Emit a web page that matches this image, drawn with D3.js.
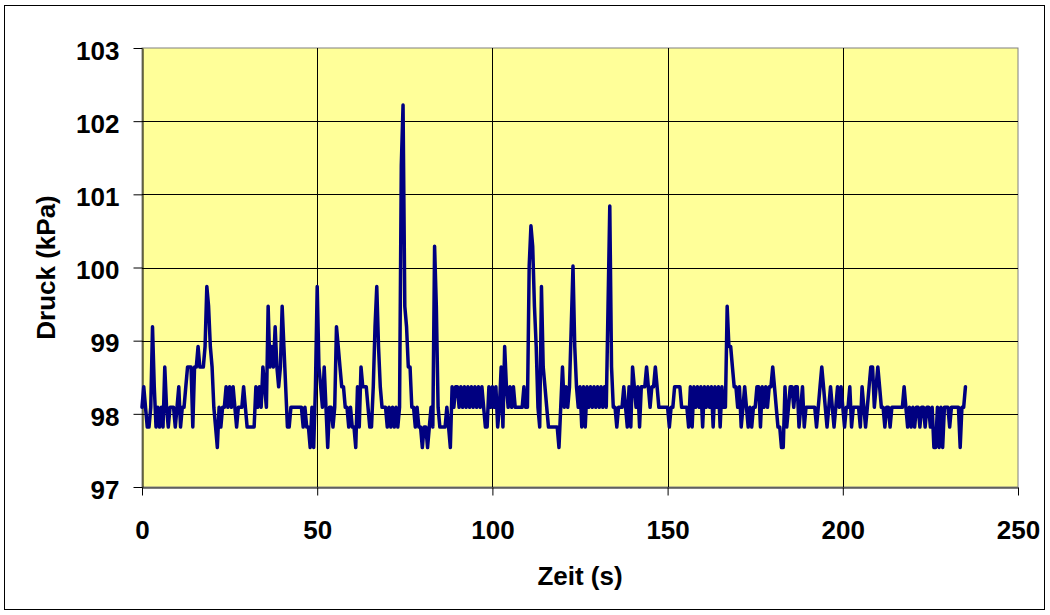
<!DOCTYPE html>
<html>
<head>
<meta charset="utf-8">
<script src="https://cdn.jsdelivr.net/npm/d3@7"></script>
<style>
  html, body { margin: 0; padding: 0; background: #ffffff; }
  svg { display: block; }
  .lbl { font-family: "Liberation Sans", Arial, sans-serif; font-weight: bold; font-size: 26px; fill: #000; }
</style>
</head>
<body>
<svg id="chart" width="1050" height="615"></svg>
<script>
// Druckverlauf, Abtastung alle 0,5 s ab t = 0
const zeitSchritt = 0.5; // s
const druck = [
  // 0 – 31.5 s
  98.09,98.37,98.09,97.82,97.82,98.09,99.19,98.37,97.82,98.09,
  97.82,98.09,97.82,98.64,98.09,97.82,98.09,98.09,98.09,97.82,
  98.09,98.37,97.82,98.09,98.09,98.37,98.64,98.64,98.64,97.82,
  98.64,98.64,98.92,98.64,98.64,98.64,98.92,99.74,99.47,98.92,
  98.64,98.09,97.82,97.54,98.09,97.82,98.09,98.09,98.37,98.09,
  98.37,98.09,98.37,98.09,97.82,98.09,98.09,98.09,98.37,98.09,
  97.82,97.82,97.82,97.82,
  // 32 – 61.5 s
  97.82,98.37,98.09,98.37,98.09,98.64,98.37,98.09,99.47,98.64,
  98.92,98.64,99.19,98.64,98.37,98.64,99.47,98.92,98.37,97.82,
  97.82,98.09,98.09,98.09,98.09,98.09,98.09,98.09,97.82,98.09,
  97.82,97.82,97.54,98.09,97.54,98.37,99.74,98.64,98.37,98.09,
  98.64,98.09,97.54,98.09,98.09,97.82,98.09,99.19,98.92,98.64,
  98.37,98.37,98.09,98.09,97.82,98.09,97.82,97.82,97.54,98.37,
  // 62 – 93 s
  97.82,98.64,98.37,98.37,98.37,98.09,97.82,97.82,98.37,99.19,
  99.74,98.92,98.37,98.09,98.09,98.09,97.82,98.09,97.82,98.09,
  97.82,98.09,97.82,98.09,101.39,102.22,99.47,99.19,98.64,98.64,
  98.09,98.09,97.82,98.09,97.82,97.82,97.54,97.82,97.82,97.54,
  97.82,98.09,97.82,100.29,99.47,98.09,97.82,97.82,97.82,97.82,
  98.09,97.82,97.54,98.37,98.09,98.37,98.37,98.09,98.37,98.09,
  98.37,98.09,98.37,
  // 93.5 – 125 s
  98.09,98.37,98.09,98.37,98.09,98.37,98.09,98.37,98.09,97.82,
  97.82,98.37,98.09,98.37,98.09,98.37,97.82,98.09,98.64,97.82,
  98.92,98.37,98.09,98.37,98.09,98.37,98.09,98.09,98.09,98.09,
  98.09,98.37,98.09,98.09,100.02,100.57,100.29,99.47,98.92,98.09,
  97.82,99.74,98.64,98.37,98.09,97.82,97.82,97.82,97.82,97.82,
  97.82,97.54,98.09,98.64,98.09,98.37,98.09,98.37,99.19,100.02,
  98.92,98.37,98.09,98.37,
  // 125.5 – 156.5 s
  97.82,98.37,97.82,98.37,98.09,98.37,98.09,98.37,98.09,98.37,
  98.09,98.37,98.09,98.37,98.09,99.47,100.84,98.64,98.09,98.09,
  97.82,98.09,98.09,98.09,98.37,98.09,97.82,98.37,97.82,98.64,
  98.37,98.09,98.37,97.82,98.37,98.37,98.37,98.64,98.37,98.09,
  98.37,98.37,98.64,98.37,98.09,98.09,98.09,98.09,98.09,98.09,
  97.82,98.09,98.09,98.37,98.37,98.37,98.37,98.09,98.09,98.09,
  98.09,97.82,98.37,
  // 157 – 187.5 s
  97.82,98.37,98.09,98.37,98.09,98.37,97.82,98.37,98.09,98.37,
  98.09,98.37,97.82,98.37,98.09,98.37,97.82,98.37,98.09,98.09,
  99.47,98.92,98.92,98.64,98.37,98.37,98.09,98.37,97.82,98.09,
  98.37,98.09,97.82,98.09,97.82,98.09,98.09,98.37,98.37,97.82,
  98.37,98.09,98.37,98.09,98.37,98.37,98.64,98.37,98.09,97.82,
  97.82,97.54,97.54,98.37,97.82,98.09,98.37,98.37,98.09,98.37,
  98.37,97.82,
  // 188 – 218.5 s
  98.09,98.37,97.82,98.09,98.09,98.09,98.09,98.09,98.09,97.82,
  98.09,98.37,98.64,98.37,98.09,97.82,98.09,98.37,98.09,97.82,
  98.09,98.37,98.09,98.37,98.09,97.82,98.09,98.09,98.37,97.82,
  98.09,98.09,98.09,98.09,97.82,98.37,98.09,97.82,98.09,98.37,
  98.64,98.64,98.09,98.37,98.64,98.37,98.09,98.09,97.82,98.09,
  98.09,97.82,98.09,98.09,98.09,98.09,98.09,98.09,98.09,98.37,
  98.09,97.82,
  // 219 – 235 s
  98.09,97.82,98.09,97.82,98.09,98.09,97.82,98.09,98.09,97.82,
  98.09,98.09,97.82,98.09,97.54,97.54,98.09,97.54,98.09,97.54,
  98.09,98.09,98.09,97.82,98.09,98.09,98.09,98.09,98.09,97.54,
  98.09,98.09,98.37
];

const xTicks = [0, 50, 100, 150, 200, 250];
const yTicks = [97, 98, 99, 100, 101, 102, 103];
const xTitle = "Zeit (s)";
const yTitle = "Druck (kPa)";

const svg = d3.select("#chart");
const plot = { left: 142, top: 48, right: 1018, bottom: 487 };

const x = d3.scaleLinear().domain([0, 250]).range([plot.left, plot.right]);
const y = d3.scaleLinear().domain([97, 103]).range([plot.bottom, plot.top]);

// Chart frame
svg.append("rect")
  .attr("x", 4.5).attr("y", 5.5)
  .attr("width", 1040).attr("height", 604)
  .attr("fill", "#ffffff").attr("stroke", "#000").attr("stroke-width", 1);

// Plot area
svg.append("rect")
  .attr("x", plot.left).attr("y", plot.top)
  .attr("width", plot.right - plot.left).attr("height", plot.bottom - plot.top)
  .attr("fill", "#FFFF99").attr("stroke", "#808080").attr("stroke-width", 1);

// Gridlines
const grid = svg.append("g").attr("stroke", "#000").attr("stroke-width", 1);
grid.selectAll("line.h")
  .data(yTicks.filter(v => v > 97 && v < 103))
  .join("line").attr("class", "h")
  .attr("x1", plot.left).attr("x2", plot.right)
  .attr("y1", d => Math.round(y(d)) + 0.5).attr("y2", d => Math.round(y(d)) + 0.5);
grid.selectAll("line.v")
  .data(xTicks.filter(v => v > 0 && v < 250))
  .join("line").attr("class", "v")
  .attr("y1", plot.top).attr("y2", plot.bottom)
  .attr("x1", d => Math.round(x(d)) + 0.5).attr("x2", d => Math.round(x(d)) + 0.5);

// Axes
const fmt = d3.format("d");
const yAxis = svg.append("g")
  .attr("transform", `translate(${plot.left + 0.5},0)`)
  .call(d3.axisLeft(y).tickValues(yTicks).tickFormat(fmt).tickSize(9).tickSizeOuter(0).tickPadding(14));
const xAxis = svg.append("g")
  .attr("transform", `translate(0,${plot.bottom + 0.5})`)
  .call(d3.axisBottom(x).tickValues(xTicks).tickFormat(fmt).tickSize(8).tickSizeOuter(0).tickPadding(25));

[yAxis, xAxis].forEach(g => {
  g.attr("font-size", null).attr("font-family", null);
  g.select(".domain").attr("stroke", "#000").attr("stroke-width", 1);
  g.selectAll(".tick line").attr("stroke", "#000");
  g.selectAll(".tick text").attr("class", "lbl").attr("fill", "#000");
});
yAxis.selectAll(".tick text").attr("dy", "0.43em");

// Druckkurve
const line = d3.line()
  .x((d, i) => x(i * zeitSchritt))
  .y(d => y(d));

svg.append("path")
  .datum(druck)
  .attr("d", line)
  .attr("fill", "none")
  .attr("stroke", "#000080")
  .attr("stroke-width", 3.5)
  .attr("stroke-linejoin", "round")
  .attr("stroke-linecap", "round");

// Axis titles
svg.append("text")
  .attr("class", "lbl")
  .attr("x", (plot.left + plot.right) / 2).attr("y", 585)
  .attr("text-anchor", "middle")
  .text(xTitle);

svg.append("text")
  .attr("class", "lbl")
  .attr("transform", `translate(55,${(plot.top + plot.bottom) / 2}) rotate(-90)`)
  .attr("text-anchor", "middle")
  .text(yTitle);
</script>
</body>
</html>
